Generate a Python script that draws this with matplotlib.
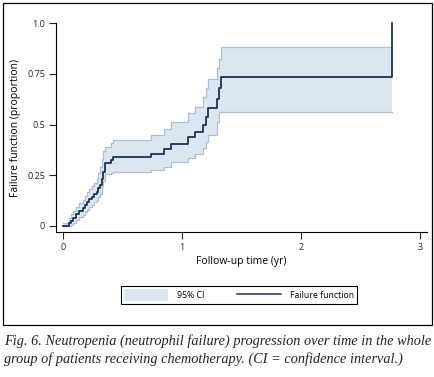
import numpy as np
import matplotlib
matplotlib.use("Agg")
import matplotlib.pyplot as plt
from matplotlib.patches import Patch, Rectangle
from matplotlib.lines import Line2D

# step times (years) and Kaplan-Meier failure estimate with 95% CI
time_yr = [0, 0.05, 0.062, 0.084, 0.107, 0.135, 0.163, 0.182, 0.196, 0.219,
           0.238, 0.258, 0.280, 0.294, 0.308, 0.322, 0.336, 0.35, 0.398, 0.415,
           0.734, 0.850, 0.902, 1.05, 1.107, 1.177, 1.196, 1.219, 1.289, 1.306,
           1.325, 2.765]
failure = [0, 0.013, 0.025, 0.038, 0.059, 0.076, 0.087, 0.104, 0.120, 0.132,
           0.145, 0.158, 0.169, 0.186, 0.202, 0.230, 0.268, 0.309, 0.325, 0.342,
           0.355, 0.380, 0.405, 0.437, 0.462, 0.500, 0.536, 0.581, 0.627, 0.679,
           0.733, 1.0]
ci_upper = [0.016, 0.04, 0.06, 0.075, 0.095, 0.115, 0.13, 0.15, 0.165, 0.18,
            0.195, 0.21, 0.23, 0.26, 0.29, 0.33, 0.37, 0.39, 0.41, 0.422,
            0.449, 0.479, 0.515, 0.556, 0.589, 0.638, 0.679, 0.725, 0.778, 0.825,
            0.885, 0.885]
ci_lower = [0, 0, 0.005, 0.013, 0.03, 0.045, 0.055, 0.07, 0.08, 0.095,
            0.105, 0.12, 0.13, 0.145, 0.16, 0.19, 0.22, 0.255, 0.262, 0.266,
            0.276, 0.29, 0.314, 0.334, 0.354, 0.383, 0.413, 0.449, 0.515, 0.564,
            0.564, 0.564]

x_ticks = [0, 1, 2, 3]
y_ticks = [0, 0.25, 0.5, 0.75, 1.0]
y_ticklabels = ["0", "0.25", "0.5", "0.75", "1.0"]

line_col = "#1c3452"
fill_col = "#dce6f0"
edge_col = "#a9c0d7"

plt.rcParams["font.family"] = ["Open Sans", "DejaVu Sans"]

fig = plt.figure(figsize=(4.35, 3.77), dpi=100)
ax = fig.add_axes([56 / 435, 1 - 232 / 377, (426.7 - 56) / 435, (232 - 23.3) / 377])

ax.fill_between(time_yr, ci_lower, ci_upper, step="post", color=fill_col, lw=0)
ax.step(time_yr, ci_upper, where="post", color=edge_col, lw=0.9)
ax.step(time_yr, ci_lower, where="post", color=edge_col, lw=0.9)
ax.step(time_yr, failure, where="post", color=line_col, lw=1.3, clip_on=False)

ax.set_xlim(-0.061, 3.054)
ax.set_ylim(-0.03, 1.0)
ax.set_xticks(x_ticks)
ax.set_yticks(y_ticks)
ax.set_yticklabels(y_ticklabels)
ax.tick_params(axis="both", labelsize=6.5, length=5, width=0.8, pad=3, colors="#222222")
ax.spines["top"].set_visible(False)
ax.spines["right"].set_visible(False)
ax.spines["left"].set_linewidth(0.8)
ax.spines["bottom"].set_linewidth(0.8)
ax.set_xlabel("Follow-up time (yr)", fontsize=7.5, labelpad=3)
ax.set_ylabel("Failure function (proportion)", fontsize=7.5, labelpad=4)

handles = [Patch(facecolor=fill_col, edgecolor="none"),
           Line2D([], [], color=line_col, lw=1.1)]
leg = fig.legend(handles, ["95% CI", "Failure function"], ncol=2, mode="expand",
                 loc="center",
                 bbox_to_anchor=(120.7 / 435, 1 - 309.3 / 377, 236.6 / 435, 28.6 / 377),
                 fontsize=6.3, handlelength=5, handleheight=1.6, handletextpad=1.0,
                 borderaxespad=0, fancybox=False, edgecolor="black", framealpha=1)
leg.get_frame().set_linewidth(0.8)

# outer frame around the chart
fig.patches.append(Rectangle((3.3 / 435, 1 - 325 / 377), 429 / 435, 321.7 / 377,
                             transform=fig.transFigure, fill=False,
                             edgecolor="black", lw=0.9))

caption = ("Fig. 6. Neutropenia (neutrophil failure) progression over time in the whole\n"
           "group of patients receiving chemotherapy. (CI = confidence interval.)")
fig.text(4 / 435, 1 - 334 / 377, caption, family="Liberation Serif", style="italic",
         fontsize=10.3, va="top", ha="left", linespacing=1.4, color="#222222")

fig.savefig("out.png", dpi=100)
